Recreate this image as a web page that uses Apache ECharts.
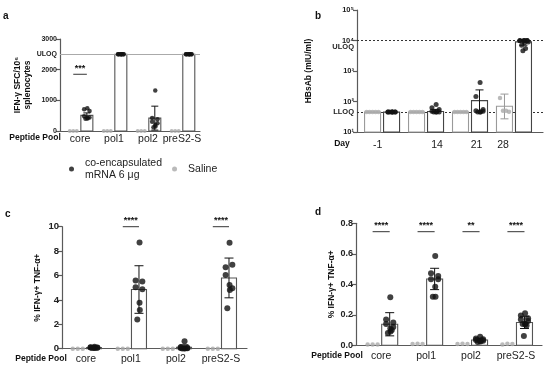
<!DOCTYPE html>
<html><head><meta charset="utf-8">
<script src="https://cdn.jsdelivr.net/npm/echarts@6/dist/echarts.min.js"></script>
<style>html,body{margin:0;padding:0;background:#fff}#c{width:550px;height:371px}</style>
</head><body><div id="c"></div>
<script>
const FONT = 'Liberation Sans, Arial, Helvetica, sans-serif';
const NAME_M = 'co-encapsulated\nmRNA 6 μg';
const NAME_S = 'Saline';

// ---------------- DATA ----------------
const pepCats = ['core', 'pol1', 'pol2', 'preS2-S'];

// panel a : IFN-γ SFC / 10^6 splenocytes
const aSalinePts = [[0, 0, 0], [0, 0, 0], [0, 0, 0], [0, 0, 0]];
const aMrnaPts = [
  [740, 710, 650, 480, 440, 420, 410, 400],
  [2500, 2500, 2500, 2500, 2500, 2500, 2500, 2500],
  [1320, 420, 380, 300, 250, 200, 150, 120],
  [2500, 2500, 2500, 2500, 2500, 2500, 2500, 2500]
];
const aMrnaMean = [510, 2500, 420, 2500];
const aMrnaSD = [80, 0, 390, 0];
const aYLabels = [0, 1000, 2000, 2500, 3000];
const aYTicks = [0, 1000, 2000, 3000];
const aULOQ = 2500;
const aSigGroups = [0], aSigLevel = [1850], aSigText = ['***'];

// panel b : HBsAb (mIU/ml), log
const bDays = ['-1', '14', '21', '28'];
const bDayLabelPos = [-0.1, 1.25, 2.15, 2.75];
const bSalinePts = [[45, 45, 45, 45, 45], [45, 45, 45, 45, 45], [45, 45, 45, 45, 45], [130, 50, 50, 46]];
const bSalineMean = [45, 45, 45, 70];
const bSalineLow = [45, 45, 45, 27];
const bSalineHigh = [45, 45, 45, 175];
const bMrnaPts = [
  [45, 45, 45, 45, 45, 45, 45, 45],
  [80, 62, 55, 48, 45, 45, 45, 45],
  [420, 145, 55, 50, 48, 45, 45, 45],
  [10000, 10000, 10000, 9800, 10000, 10000, 8500, 7000, 5500, 4600, 9000]
];
const bMrnaMean = [45, 47, 107, 9000];
const bMrnaLow = [45, 45, 45, 7000];
const bMrnaHigh = [45, 55, 240, 10500];
const bULOQ = 10000, bLLOQ = 45;
const bYTicks = [10, 100, 1000, 10000, 100000];
const bYTickText = ['10¹', '10²', '10³', '10⁴', '10⁵'];
const bULOQLabelAt = 6200;

// panel c : % IFN-γ+ TNF-α+
const cSalinePts = [[0, 0, 0], [0, 0, 0], [0, 0, 0], [0, 0, 0]];
const cMrnaPts = [
  [0.15, 0.12, 0.1, 0.1, 0.08, 0.08, 0.06, 0.05],
  [8.7, 5.6, 5.5, 5.03, 4.87, 3.77, 3.17, 2.4],
  [0.62, 0.12, 0.08, 0.05, 0.04, 0.03, 0.02, 0.02],
  [8.69, 6.67, 6.89, 6.04, 4.95, 5.22, 4.81, 3.31]
];
const cMrnaMean = [0.09, 4.85, 0.12, 5.8];
const cMrnaSD = [0.03, 1.95, 0.2, 1.63];
const cSigGroups = [1, 3], cSigLevel = [10, 10], cSigText = ['****', '****'];

// panel d : % IFN-γ+ TNF-α+
const dSalinePts = [[0.005, 0.005, 0.005], [0.008, 0.01, 0.008], [0.008, 0.01, 0.008], [0.006, 0.01, 0.008]];
const dMrnaPts = [
  [0.315, 0.17, 0.15, 0.14, 0.12, 0.11, 0.09, 0.08, 0.1],
  [0.585, 0.472, 0.454, 0.433, 0.433, 0.384, 0.319, 0.319],
  [0.056, 0.045, 0.04, 0.035, 0.03, 0.028, 0.025, 0.022],
  [0.21, 0.195, 0.177, 0.17, 0.16, 0.14, 0.14, 0.14, 0.13, 0.061]
];
const dMrnaMean = [0.138, 0.435, 0.035, 0.15];
const dMrnaSD = [0.076, 0.07, 0.012, 0.04];
const dSigGroups = [0, 1, 2, 3], dSigLevel = [0.745, 0.745, 0.745, 0.745], dSigText = ['****', '****', '**', '****'];

// ---------------- helpers ----------------
const JIT = [0.1, -0.6, 0.6, -0.6, 0.6, 0.1, 0.15, -0.3, 0.35, -0.1, 0.8, -0.8];
const BLACK = '#111', GREY = '#a9a9a9', AXIS = '#5a5a5a';

function jitterData(groups, off, spread) {
  const out = [];
  groups.forEach((arr, g) => arr.forEach((v, k) => out.push([g + off + JIT[k % JIT.length] * spread, v])));
  return out;
}
function rowData(groups, off, step) {
  const out = [];
  groups.forEach((arr, g) => { const n = arr.length; arr.forEach((v, k) => out.push([g + off + (k - (n - 1) / 2) * step, v])); });
  return out;
}
function barSeries(i, off, vals, base, wPx, stroke) {
  return {
    type: 'custom', xAxisIndex: i, yAxisIndex: i, silent: true, z: 2, clip: false,
    encode: { x: 0, y: 1 },
    data: vals.map((v, g) => [g + off, v]),
    renderItem: (p, api) => {
      const p0 = api.coord([api.value(0), base]);
      const p1 = api.coord([api.value(0), api.value(1)]);
      return { type: 'rect', shape: { x: p0[0] - wPx / 2, y: p1[1], width: wPx, height: p0[1] - p1[1] },
        style: { fill: '#fff', stroke: stroke, lineWidth: 1.1 } };
    }
  };
}
function errSeries(i, off, low, high, capPx, color) {
  return {
    type: 'custom', xAxisIndex: i, yAxisIndex: i, silent: true, z: 3, clip: false,
    encode: { x: 0, y: [1, 2] },
    data: low.map((l, g) => [g + off, l, high[g]]),
    renderItem: (p, api) => {
      if (api.value(1) === api.value(2)) return null;
      const x = api.value(0);
      const a = api.coord([x, api.value(1)]);
      const b = api.coord([x, api.value(2)]);
      const st = { stroke: color, lineWidth: 1 };
      return { type: 'group', children: [
        { type: 'line', shape: { x1: a[0], y1: a[1], x2: b[0], y2: b[1] }, style: st },
        { type: 'line', shape: { x1: b[0] - capPx / 2, y1: b[1], x2: b[0] + capPx / 2, y2: b[1] }, style: st },
        { type: 'line', shape: { x1: a[0] - capPx / 2, y1: a[1], x2: a[0] + capPx / 2, y2: a[1] }, style: st }
      ] };
    }
  };
}
function sigSeries(i, groups, levels, texts, off1, off2) {
  return {
    type: 'custom', xAxisIndex: i, yAxisIndex: i, silent: true, z: 4, clip: false,
    encode: { x: 0, y: 1 },
    data: groups.map((g, k) => [g, levels[k], k]),
    renderItem: (p, api) => {
      const g = api.value(0), lv = api.value(1), k = api.value(2);
      const a = api.coord([g + off1, lv]);
      const b = api.coord([g + off2, lv]);
      return { type: 'group', children: [
        { type: 'rect', shape: { x: a[0], y: a[1] - 0.5, width: b[0] - a[0], height: 1 }, style: { fill: '#333' } },
        { type: 'text', x: (a[0] + b[0]) / 2, y: a[1] - 1.5,
          style: { text: texts[k], fill: '#111', fontSize: 9, fontWeight: 'bold', fontFamily: FONT, align: 'center', verticalAlign: 'bottom' } }
      ] };
    }
  };
}
function scatter(i, name, data, color, size, z) {
  return { type: 'scatter', name: name, xAxisIndex: i, yAxisIndex: i, data: data, symbol: 'circle',
    symbolSize: size, itemStyle: { color: color }, z: z || 5, silent: true, clip: false };
}
function meanSD(mean, sd, sign) { return mean.map((m, g) => m + sign * sd[g]); }

// ---------------- layout ----------------
const grids = [
  { left: 60, top: 39, width: 140, height: 92 },
  { left: 357, top: 10, width: 186, height: 122 },
  { left: 62, top: 226.7, width: 185, height: 122 },
  { left: 356, top: 223.3, width: 186, height: 122 }
];
const axLine = { show: true, onZero: false, lineStyle: { color: AXIS, width: 1.2 } };
const yTick = { show: true, length: 4, lineStyle: { color: AXIS, width: 1.2 } };
const catLabel = (cats) => ({ customValues: [0, 1, 2, 3], formatter: v => cats[Math.round(v)], fontSize: 10.5, color: '#222', fontFamily: FONT });

const xAxes = [
  { gridIndex: 0, type: 'value', min: -0.59, max: 3.53, axisLine: axLine, axisTick: { show: false }, splitLine: { show: false },
    axisLabel: Object.assign(catLabel(pepCats), { margin: 3 }) },
  { gridIndex: 1, type: 'value', min: -0.57, max: 3.66, axisLine: axLine, axisTick: { show: false }, splitLine: { show: false },
    axisLabel: { customValues: bDayLabelPos, formatter: v => bDays[bDayLabelPos.indexOf(v)], fontSize: 10.5, color: '#222', fontFamily: FONT, margin: 8 } },
  { gridIndex: 2, type: 'value', min: -0.53, max: 3.58, axisLine: axLine, axisTick: { show: false }, splitLine: { show: false },
    axisLabel: Object.assign(catLabel(pepCats), { margin: 5 }) },
  { gridIndex: 3, type: 'value', min: -0.56, max: 3.58, axisLine: axLine, axisTick: { show: false }, splitLine: { show: false },
    axisLabel: Object.assign(catLabel(pepCats), { margin: 5 }) }
];
const yName = { fontSize: 8.5, fontWeight: 'bold', color: '#111', fontFamily: FONT };
const yLab = (fs) => ({ fontSize: fs, fontWeight: 'bold', color: '#222', fontFamily: FONT, margin: 3 });
const yAxes = [
  { gridIndex: 0, type: 'value', min: 0, max: 3000, axisLine: axLine, axisTick: Object.assign({ customValues: aYTicks }, yTick),
    splitLine: { show: false },
    axisLabel: Object.assign({ customValues: aYLabels, formatter: v => v === aULOQ ? 'ULOQ' : String(v) }, yLab(7)),
    name: 'IFN-γ SFC/10⁶\nsplenocytes', nameLocation: 'middle', nameGap: 23, nameTextStyle: Object.assign({ lineHeight: 10 }, yName) },
  { gridIndex: 1, type: 'log', logBase: 10, min: 10, max: 100000, axisLine: axLine,
    axisTick: Object.assign({ customValues: bYTicks }, yTick), minorTick: { show: false }, splitLine: { show: false },
    axisLabel: Object.assign({ customValues: bYTicks.concat([bLLOQ, bULOQLabelAt]),
      formatter: v => v === bLLOQ ? 'LLOQ' : (v === bULOQLabelAt ? 'ULOQ' : bYTickText[bYTicks.indexOf(v)]) }, yLab(7.5)),
    name: 'HBsAb (mIU/ml)', nameLocation: 'middle', nameGap: 44, nameTextStyle: yName },
  { gridIndex: 2, type: 'value', min: 0, max: 10, interval: 2, axisLine: axLine, axisTick: yTick, splitLine: { show: false },
    axisLabel: yLab(9.5),
    name: '% IFN-γ+ TNF-α+', nameLocation: 'middle', nameGap: 20, nameTextStyle: yName },
  { gridIndex: 3, type: 'value', min: 0, max: 0.8, interval: 0.2, axisLine: axLine, axisTick: yTick, splitLine: { show: false },
    axisLabel: Object.assign({ formatter: v => v.toFixed(1) }, yLab(9)),
    name: '% IFN-γ+ TNF-α+', nameLocation: 'middle', nameGap: 20, nameTextStyle: yName }
];

const P = [
  { off: 0.2, barW: 12, ppu: 34 },
  { off: 0.216, barW: 16, ppu: 44 },
  { off: 0.18, barW: 15, ppu: 45 },
  { off: 0.19, barW: 16, ppu: 45 }
];
const sp = i => (P[i].barW / 2) / P[i].ppu * 0.75;

const series = [];
// panel a
series.push(barSeries(0, P[0].off, aMrnaMean, 0, P[0].barW, '#555'));
series.push(errSeries(0, P[0].off, meanSD(aMrnaMean, aMrnaSD, -1), meanSD(aMrnaMean, aMrnaSD, 1), 7, BLACK));
series.push(scatter(0, NAME_S, rowData(aSalinePts, -P[0].off, 3.5 / P[0].ppu), GREY, 4));
series.push(scatter(0, NAME_M, jitterData(aMrnaPts, P[0].off, sp(0)), BLACK, 4.5));
series.push(sigSeries(0, aSigGroups, aSigLevel, aSigText, -P[0].off, P[0].off));
series[series.length - 3].markLine = { silent: true, symbol: 'none', label: { show: false },
  lineStyle: { color: '#aaa', width: 1, type: 'solid' }, data: [{ yAxis: aULOQ }] };
// panel b
series.push(barSeries(1, -P[1].off, bSalineMean, 10, P[1].barW, '#9a9a9a'));
series.push(barSeries(1, P[1].off, bMrnaMean, 10, P[1].barW, '#444'));
series.push(errSeries(1, -P[1].off, bSalineLow, bSalineHigh, 8, '#999'));
series.push(errSeries(1, P[1].off, bMrnaLow, bMrnaHigh, 8, BLACK));
series.push(scatter(1, NAME_S, rowData(bSalinePts, -P[1].off, 3 / P[1].ppu), GREY, 4.5));
series.push(scatter(1, NAME_M, jitterData(bMrnaPts, P[1].off, sp(1)), BLACK, 5));
series[series.length - 1].markLine = { silent: true, symbol: 'none', label: { show: false }, z: 1,
  lineStyle: { color: '#333', width: 1, type: [2, 2] }, data: [{ yAxis: bULOQ }, { yAxis: bLLOQ }] };
// panel c
series.push(barSeries(2, P[2].off, cMrnaMean, 0, P[2].barW, '#555'));
series.push(errSeries(2, P[2].off, meanSD(cMrnaMean, cMrnaSD, -1), meanSD(cMrnaMean, cMrnaSD, 1), 9, BLACK));
series.push(scatter(2, NAME_S, rowData(cSalinePts, -P[2].off, 5 / P[2].ppu), GREY, 4.5));
series.push(scatter(2, NAME_M, jitterData(cMrnaPts, P[2].off, sp(2)), BLACK, 6));
series.push(sigSeries(2, cSigGroups, cSigLevel, cSigText, -P[2].off, P[2].off));
// panel d
series.push(barSeries(3, P[3].off, dMrnaMean, 0, P[3].barW, '#555'));
series.push(errSeries(3, P[3].off, meanSD(dMrnaMean, dMrnaSD, -1), meanSD(dMrnaMean, dMrnaSD, 1), 9, BLACK));
series.push(scatter(3, NAME_S, rowData(dSalinePts, -P[3].off, 5 / P[3].ppu), GREY, 4.5));
series.push(scatter(3, NAME_M, jitterData(dMrnaPts, P[3].off, sp(3)), BLACK, 6));
series.push(sigSeries(3, dSigGroups, dSigLevel, dSigText, -P[3].off, P[3].off));

const panelTitle = (t, l, tp) => ({ text: t, left: l, top: tp, padding: 0, textStyle: { fontSize: 10, fontWeight: 'bold', color: '#111', fontFamily: FONT } });
const txt = (t, x, y) => ({ type: 'text', x: x, y: y, style: { text: t, fontSize: 8.5, fontWeight: 'bold', fill: '#111', fontFamily: FONT, align: 'center', verticalAlign: 'middle' } });

const option = {
  animation: false,
  backgroundColor: '#fff',
  textStyle: { fontFamily: FONT },
  title: [panelTitle('a', 3, 11), panelTitle('b', 315, 11), panelTitle('c', 5, 209), panelTitle('d', 315, 207)],
  legend: { data: [NAME_M, NAME_S], left: 64, top: 152, orient: 'horizontal', itemWidth: 5, itemHeight: 5, itemGap: 10,
    selectedMode: false, icon: 'circle',
    textStyle: { fontSize: 10.5, lineHeight: 12, color: '#222', fontFamily: FONT, padding: [0, 0, 0, 6] } },
  graphic: [txt('Peptide Pool', 35, 138), txt('Day', 342, 144), txt('Peptide Pool', 41, 359), txt('Peptide Pool', 337, 356)],
  grid: grids,
  xAxis: xAxes,
  yAxis: yAxes,
  series: series
};
const chart = echarts.init(document.getElementById('c'), null, { renderer: 'canvas' });
chart.setOption(option);
</script></body></html>
